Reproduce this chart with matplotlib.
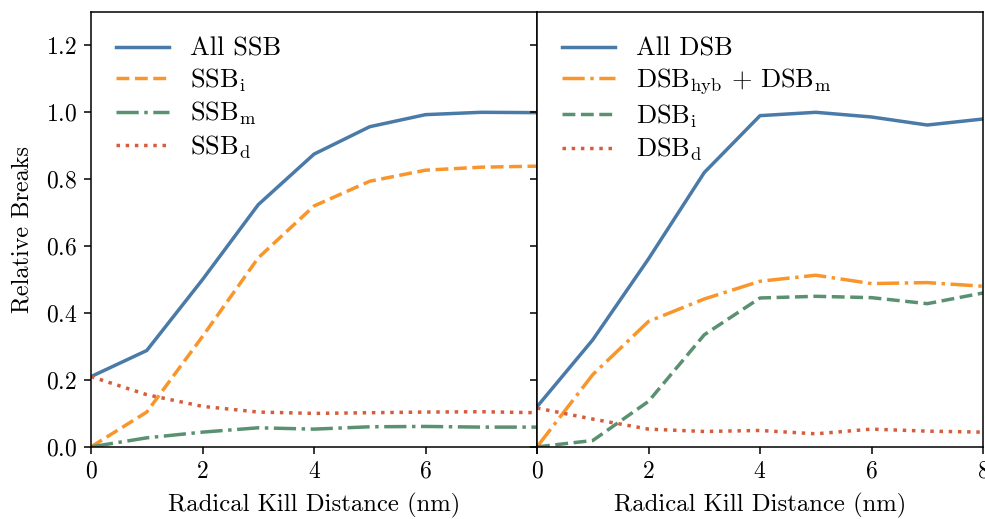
import numpy as np
import matplotlib
matplotlib.use('Agg')
import matplotlib.pyplot as plt

plt.rcParams['font.family'] = 'cmr10'
plt.rcParams['mathtext.fontset'] = 'cm'
plt.rcParams['axes.formatter.use_mathtext'] = True

# radical kill distance (nm)
dist = [0, 1, 2, 3, 4, 5, 6, 7, 8]

# single strand breaks
ssb_all = [0.21, 0.288, 0.50, 0.724, 0.875, 0.957, 0.993, 1.0, 0.999]
ssb_i = [0.0, 0.104, 0.33, 0.565, 0.72, 0.794, 0.827, 0.836, 0.839]
ssb_m = [0.0, 0.027, 0.044, 0.057, 0.053, 0.060, 0.061, 0.059, 0.059]
ssb_d = [0.21, 0.156, 0.121, 0.104, 0.100, 0.102, 0.104, 0.105, 0.102]

# double strand breaks
dsb_all = [0.12, 0.32, 0.562, 0.82, 0.99, 1.0, 0.986, 0.962, 0.98]
dsb_hyb_m = [0.0, 0.216, 0.375, 0.442, 0.495, 0.513, 0.488, 0.491, 0.48]
dsb_i = [0.0, 0.019, 0.136, 0.335, 0.445, 0.45, 0.446, 0.428, 0.46]
dsb_d = [0.116, 0.083, 0.053, 0.046, 0.049, 0.039, 0.053, 0.047, 0.044]

blue = '#4a7aa8'
orange = '#f8962c'
green = '#5a9170'
red = '#d65c3c'
lw = 2.5

fig, (ax1, ax2) = plt.subplots(1, 2, sharey=True, figsize=(9.85, 5.19), dpi=100)
fig.subplots_adjust(left=0.0924, right=0.998, top=0.977, bottom=0.139, wspace=0)

ax1.plot(dist, ssb_all, color=blue, lw=lw, ls='-', label='All SSB')
ax1.plot(dist, ssb_i, color=orange, lw=lw, ls='--', label=r'SSB$_\mathrm{i}$')
ax1.plot(dist, ssb_m, color=green, lw=lw, ls='-.', label=r'SSB$_\mathrm{m}$')
ax1.plot(dist, ssb_d, color=red, lw=lw, ls=':', label=r'SSB$_\mathrm{d}$')

ax2.plot(dist, dsb_all, color=blue, lw=lw, ls='-', label='All DSB')
ax2.plot(dist, dsb_hyb_m, color=orange, lw=lw, ls='-.',
         label=r'$\mathrm{DSB_{hyb}}\,+\,\mathrm{DSB_{m}}$')
ax2.plot(dist, dsb_i, color=green, lw=lw, ls='--', label=r'DSB$_\mathrm{i}$')
ax2.plot(dist, dsb_d, color=red, lw=lw, ls=':', label=r'DSB$_\mathrm{d}$')

for ax in (ax1, ax2):
    ax.set_xlim(0, 8)
    ax.set_ylim(0, 1.3)
    ax.set_xticks([0, 2, 4, 6, 8])
    ax.set_xlabel('Radical Kill Distance (nm)', fontsize=17.8, labelpad=7)
    ax.tick_params(labelsize=17, width=1.1, length=5, pad=5)
    for s in ax.spines.values():
        s.set_linewidth(1.1)
    ax.legend(loc='upper left', frameon=False, fontsize=19, handlelength=2.0,
              handletextpad=0.8, labelspacing=0.22, borderaxespad=0.5,
              borderpad=0.45)

ax1.set_xticklabels(['0', '2', '4', '6', ''])
ax1.set_yticks([0, 0.2, 0.4, 0.6, 0.8, 1.0, 1.2])
ax1.set_ylabel('Relative Breaks', fontsize=17.5, labelpad=9)

fig.savefig('out.png', dpi=100)
